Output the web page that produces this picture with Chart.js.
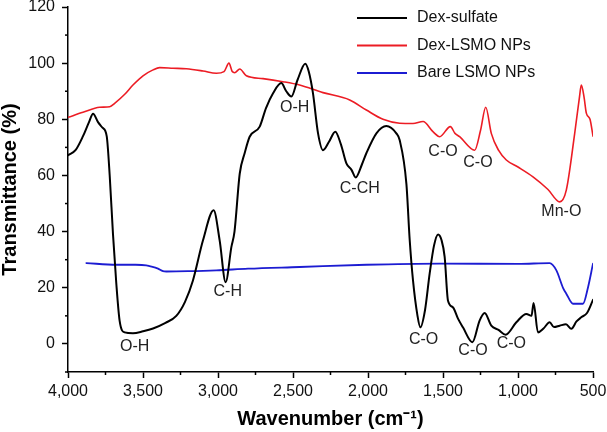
<!DOCTYPE html>
<html>
<head>
<meta charset="utf-8">
<script src="https://cdn.jsdelivr.net/npm/chart.js@4"></script>
<style>
  html, body { margin:0; padding:0; background:#fff; }
  #c { display:block; }
</style>
</head>
<body>
<canvas id="c" width="607" height="432"></canvas>
<script>
const sulfatoX = [4000,3950,3900,3860,3833,3800,3770,3742,3722,3700,3678,3656,3622,3567,3500,3433,3350,3278,3220,3167,3100,3029,2989,2949,2911,2890,2855,2822,2789,2722,2680,2633,2578,2545,2511,2470,2418,2395,2367,2333,2300,2260,2218,2180,2144,2110,2082,2040,2011,1944,1878,1811,1789,1744,1722,1700,1670,1651,1620,1589,1560,1533,1510,1489,1467,1433,1400,1367,1304,1256,1222,1178,1130,1082,1011,944,910,896,867,830,789,760,722,680,644,610,578,540,500];
const sulfatoY = [67.2,69,74,79,82,79,77,74,60,39,21.5,8.3,4.1,3.8,4.5,5.5,7.5,10,15,22.6,36.9,47.6,36.9,22,34.5,40,60.7,68,73.8,77.4,84,89.3,92.9,90,88.1,94,99.8,97,89.3,75,69,72,75.6,71,64.3,62,59.3,64,67.9,75,77.6,75,72.6,57,37,22.6,10,5.9,12,25,35,39,37,31,15.5,13,9,5.9,0.6,8.3,11,6.5,5,3.3,7.7,10.7,10,14.6,4.1,5.5,7.7,6,6.5,7,5.4,8,9.5,11,15.7];

const dexLsmoX = [4000,3900,3789,3722,3689,3620,3567,3500,3433,3389,3300,3211,3100,3011,2960,2927,2905,2889,2855,2811,2700,2567,2456,2300,2122,2011,1900,1789,1700,1633,1567,1522,1451,1420,1389,1289,1250,1215,1178,1130,1078,1000,900,800,722,678,622,590,578,560,544,520,500];
const dexLsmoY = [80.7,82.5,84.3,84.5,85.7,89,92.2,95.5,97.6,98.4,98.2,98,97.2,96.4,97,100,97,96.6,97.9,95.5,94.5,93.4,92.2,89.5,86.9,83.3,80,78.6,78.5,79.2,75.6,73.8,77.4,75,73.8,69,76,84.3,75,69,65.5,63,59.5,55,50.6,54.8,75,88,92.2,88,82.1,80,74];

const bareX = [3878,3678,3550,3478,3456,3400,3367,3344,3200,3011,2800,2456,2011,1522,1000,789,744,700,678,633,567,533,500];
const bareY = [28.8,28.2,28.2,28,27.7,26.8,25.9,25.8,25.9,26.2,26.8,27.4,28.2,28.6,28.5,28.8,26.2,20,17.9,14.3,14.3,20.2,28.6];

const series = ['Dex-sulfate','Dex-LSMO NPs','Bare LSMO NPs'];
const colores = ['#000000','#ec1c24','#1c1cd2'];

// etiquetas de bandas: [texto, número de onda, transmitancia]
const bandas = [
  ['O-H', 3556, -1],
  ['C-H', 2935, 18.5],
  ['O-H', 2489, 84],
  ['C-CH', 2055, 55.5],
  ['C-O', 1500, 68.5],
  ['C-O', 1267, 64.5],
  ['Mn-O', 711, 47],
  ['C-O', 1629, 1.5],
  ['C-O', 1300, -2.5],
  ['C-O', 1044, 0]
];

const xTicks = [500,1000,1500,2000,2500,3000,3500,4000];
const yTicks = [0,20,40,60,80,100,120];

const FONT = 'Liberation Sans, Arial, sans-serif';
const pts = (xs, ys) => xs.map((x,i)=>({x, y:ys[i]}));

// ---------- Plugins ----------
const minorTicks = {
  id:'minorTicks',
  afterDraw(chart){
    const {ctx, chartArea:a, scales:{x, y}} = chart;
    ctx.save();
    ctx.strokeStyle = '#000'; ctx.lineWidth = 1.5;
    x.ticks.forEach(t=>{
      if(xTicks.includes(t.value)) return;
      const px = x.getPixelForValue(t.value);
      ctx.beginPath(); ctx.moveTo(px, a.bottom); ctx.lineTo(px, a.bottom+3); ctx.stroke();
    });
    y.ticks.forEach(t=>{
      if(yTicks.includes(t.value)) return;
      const py = y.getPixelForValue(t.value);
      ctx.beginPath(); ctx.moveTo(a.left-3, py); ctx.lineTo(a.left, py); ctx.stroke();
    });
    ctx.restore();
  }
};

const etiquetas = {
  id:'etiquetas',
  afterDatasetsDraw(chart){
    const {ctx, scales:{x, y}} = chart;
    ctx.save();
    ctx.font = '16px ' + FONT;
    ctx.fillStyle = '#222';
    ctx.textAlign = 'center'; ctx.textBaseline = 'middle';
    bandas.forEach(([t, wx, wy])=> ctx.fillText(t, x.getPixelForValue(wx), y.getPixelForValue(wy)));
    ctx.restore();
  }
};

const leyenda = {
  id:'leyenda',
  afterDraw(chart){
    const ctx = chart.ctx;
    ctx.save();
    ctx.font = '16px ' + FONT;
    ctx.textAlign = 'left'; ctx.textBaseline = 'middle';
    chart.data.datasets.forEach((d,i)=>{
      const yy = 18 + i*27.5;
      ctx.strokeStyle = d.borderColor; ctx.lineWidth = 2;
      ctx.beginPath(); ctx.moveTo(357, yy); ctx.lineTo(407, yy); ctx.stroke();
      ctx.fillStyle = '#111';
      ctx.fillText(d.label, 417, yy);
    });
    ctx.restore();
  }
};

// ---------- Gráfico ----------
new Chart(document.getElementById('c'), {
  type:'line',
  data:{
    datasets:[
      {label:series[0], data:pts(sulfatoX, sulfatoY), borderColor:colores[0], borderWidth:2},
      {label:series[1], data:pts(dexLsmoX, dexLsmoY), borderColor:colores[1], borderWidth:1.6},
      {label:series[2], data:pts(bareX, bareY), borderColor:colores[2], borderWidth:1.8}
    ]
  },
  options:{
    responsive:false, animation:false,
    layout:{padding:{top:7, right:14, bottom:0, left:0}},
    elements:{point:{radius:0}, line:{cubicInterpolationMode:'monotone', borderCapStyle:'round', borderJoinStyle:'round'}},
    plugins:{legend:{display:false}, tooltip:{enabled:false}},
    scales:{
      x:{
        type:'linear', reverse:true, min:500, max:4000,
        afterFit:s=>{ s.height = 60; s.paddingLeft = 0; s.paddingRight = 0; },
        ticks:{stepSize:250, autoSkip:false, maxRotation:0, padding:4, color:'#111',
          font:{family:FONT, size:16},
          callback:v => xTicks.includes(v) ? v.toLocaleString('en-US') : ''},
        grid:{drawOnChartArea:false, tickLength:6, tickWidth:1.5,
          tickColor:c => (c.tick && xTicks.includes(c.tick.value)) ? '#000' : 'rgba(0,0,0,0)'},
        border:{display:true, color:'#000', width:1.5},
        title:{display:true, text:'Wavenumber (cm\u207B\u00B9)', color:'#000',
          font:{family:FONT, size:20, weight:'bold', lineHeight:1}, padding:{top:0, bottom:3}}
      },
      y:{
        type:'linear', min:-10, max:120,
        afterFit:s=>{ s.width = 68; s.paddingTop = 0; s.paddingBottom = 0; },
        ticks:{stepSize:10, autoSkip:false, padding:7, color:'#111',
          font:{family:FONT, size:16},
          callback:v => yTicks.includes(v) ? String(v) : ''},
        grid:{drawOnChartArea:false, tickLength:6, tickWidth:1.5,
          tickColor:c => (c.tick && yTicks.includes(c.tick.value)) ? '#000' : 'rgba(0,0,0,0)'},
        border:{display:true, color:'#000', width:1.5},
        title:{display:true, text:'Transmittance (%)', color:'#000',
          font:{family:FONT, size:20, weight:'bold', lineHeight:1}, padding:{top:0, bottom:0}}
      }
    }
  },
  plugins:[minorTicks, etiquetas, leyenda]
});
</script>
</body>
</html>
